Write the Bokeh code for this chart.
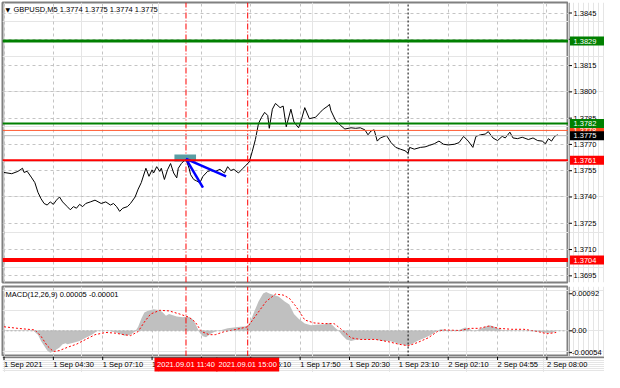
from bokeh.plotting import figure
from bokeh.layouts import column, row
from bokeh.models import Range1d, FixedTicker, Span, Label, Grid
from bokeh.core.properties import value
from bokeh.embed import file_html
from bokeh.resources import INLINE

# ---------------- data ----------------
symbol_title = "GBPUSD,M5  1.3774 1.3775 1.3774 1.3775"
macd_title = "MACD(12,26,9) 0.00005 -0.00001"

price_bars = [0,5,9,12,13,15,18,20,22,24,26,28,30,32,34,36,38,41,43,45,47,49,51,53,56,59,63,66,69,71,
              73,75,77,80,82,85,87,89,91,92,94,96,97,99,101,102,104,106,108,110,112,113,115,117,118,120,
              121,123,125,127,129,132,134,137,140,143,145,147,149,152,155,157,159,161,163,165,167,169,171,
              172,174,176,179,181,183,186,188,191,193,195,198,202,205,207,210,211,212,215,218,221,225,228,
              231,234,236,238,240,242,244,248,251,254,257,260,262,263,266,270,273,276,279,282,285,288,292,
              295,298,301,304,306,309,312,314,317,320,323,325,328,330,333,336,340,343,346,349,351,353,355,
              357,359]
price_vals = [1.37540,1.37533,1.37546,1.37564,1.37540,1.37547,1.37509,1.37482,1.37427,1.37390,1.37363,
              1.37354,1.37372,1.37358,1.37382,1.37400,1.37372,1.37345,1.37327,1.37345,1.37336,1.37358,
              1.37345,1.37363,1.37372,1.37382,1.37363,1.37372,1.37354,1.37363,1.37345,1.37318,1.37336,
              1.37345,1.37363,1.37400,1.37445,1.37482,1.37537,1.37564,1.37518,1.37555,1.37537,1.37573,
              1.37546,1.37564,1.37500,1.37555,1.37591,1.37537,1.37509,1.37564,1.37591,1.37609,1.37615,
              1.37564,1.37527,1.37500,1.37491,1.37482,1.37518,1.37546,1.37551,1.37546,1.37558,1.37537,
              1.37573,1.37551,1.37558,1.37537,1.37564,1.37582,1.37600,1.37661,1.37728,1.37819,1.37855,
              1.37883,1.37865,1.37792,1.37901,1.37934,1.37910,1.37919,1.37801,1.37901,1.37828,1.37795,
              1.37847,1.37910,1.37847,1.37855,1.37883,1.37901,1.37919,1.37929,1.37892,1.37837,1.37810,
              1.37788,1.37795,1.37792,1.37795,1.37783,1.37755,1.37777,1.37783,1.37719,1.37737,1.37751,
              1.37710,1.37683,1.37673,1.37664,1.37650,1.37683,1.37673,1.37683,1.37686,1.37695,1.37704,
              1.37719,1.37701,1.37697,1.37701,1.37710,1.37746,1.37719,1.37683,1.37746,1.37755,1.37759,
              1.37773,1.37737,1.37722,1.37746,1.37737,1.37770,1.37737,1.37733,1.37741,1.37728,1.37737,
              1.37722,1.37719,1.37704,1.37733,1.37719,1.37746,1.37755]

# MACD histogram and signal, in units of 0.00001
hist_bars = [0,10,19,22,24,26,28,30,32,34,36,38,40,41,45,49,53,57,59,61,68,74,78,82,85,87,89,91,93,97,
             101,103,105,107,112,116,119,122,124,126,127,129,131,134,137,141,145,149,153,158,160,162,165,
             168,170,172,175,178,182,185,188,191,195,199,204,208,211,213,215,217,219,222,225,229,235,241,
             245,250,254,258,261,264,268,273,277,281,283,287,291,295,299,302,305,308,312,315,318,323,329,
             337,346,352,356,359]
hist_e5 = [1,1,0,-9.5,-25.2,-37.0,-48.8,-54.3,-51.2,-46.5,-41.0,-33.1,-30.7,-33.1,-29.2,-25.2,-17.4,-9.5,
           -4.0,0,0,-5.6,-11.9,-9.5,-1.6,10.1,29.8,45.5,49.5,53.4,51.0,45.5,37.7,41.6,35.3,33.7,35.3,29.8,
           18.0,2.3,-5.6,-13.4,-15.8,-7.2,-1.6,2.3,6.2,8.6,10.1,11.7,25.9,45.5,73.1,92.7,96.6,92.7,88.8,
           84.9,73.1,65.2,41.6,29.8,18.0,14.1,15.6,16.4,19.6,14.1,6.2,0,-9.5,-21.3,-25.2,-21.3,-21.3,-21.3,
           -25.2,-25.2,-29.2,-33.1,-37.0,-33.1,-25.2,-17.4,-9.5,0,3.9,2.3,0.8,2.3,8.6,3.9,-1.6,3.9,10.1,
           14.1,10.1,2.3,0.8,0,-1.6,-5.6,-4.0,2.3]
signal_bars = [0,9,20,24,28,32,36,41,47,53,59,66,72,78,82,87,91,95,101,107,114,120,124,128,133,137,143,
               149,158,164,170,176,181,185,189,192,195,201,208,214,218,225,231,241,250,256,262,268,275,281,
               285,296,302,308,314,321,329,337,346,352,358]
signal_e5 = [10.1,6.2,2.3,-13.4,-37.0,-51.2,-48.8,-41.0,-33.1,-21.3,-9.5,-4.0,-5.6,-9.5,-11.9,-1.6,21.9,
             41.6,51.0,49.5,41.6,33.7,21.9,-1.6,-9.5,-9.5,-1.6,2.3,10.1,41.6,73.1,91.1,88.8,80.9,62.0,45.0,
             27.0,19.6,18.0,18.0,6.2,-17.4,-21.3,-21.3,-27.6,-33.1,-37.0,-29.2,-17.4,-1.6,2.3,0.8,6.2,6.2,
             11.7,6.2,3.9,3.9,-1.6,-7.2,-4.0]

price_ticks = [1.3695, 1.3710, 1.3725, 1.3740, 1.3755, 1.3770, 1.3785, 1.3800, 1.3815, 1.3830, 1.3845]
price_tick_labels = ["1.3695", "1.3710", "1.3725", "1.3740", "1.3755", "1.3770", "1.3785", "1.3800",
                     "1.3815", "1.3830", "1.3845"]
time_ticks = [0, 32, 64, 96, 128, 160, 192, 224, 256, 288, 320, 352]
time_labels = ["1 Sep 2021", "1 Sep 04:30", "1 Sep 07:10", "1 Sep 09:50", "1 Sep 12:30", "1 Sep 15:10",
               "1 Sep 17:50", "1 Sep 20:30", "1 Sep 23:10", "2 Sep 02:10", "2 Sep 04:55", "2 Sep 08:00"]
macd_ticks = [-0.00054, 0.0, 0.00092]
macd_tick_labels = ["-0.00054", "0.00", "0.00092"]

resistance_levels = [1.3829, 1.3782]
resistance_labels = ["1.3829", "1.3782"]
support_levels = [1.3761, 1.3704]
support_labels = ["1.3761", "1.3704"]
alert_level = 1.3778
alert_label = "1.3778"
bid_level = 1.3775
bid_label = "1.3775"

event_bars = [118, 158]
event_labels = ["2021.09.01 11:40", "2021.09.01 15:00"]
session_bar = 262

zone_bars = [110.5, 124.5]
zone_prices = [1.37602, 1.37643]
arrow_start = (118, 1.37618)
arrow_end_bars = [129, 144]
arrow_end_prices = [1.37454, 1.37518]

# ---------------- styling ----------------
FONT = "Liberation Sans"
FS = "7.5px"
GRID = "#c4c4c4"
EVENT_RED = "#ff0000"
FRAME_W, AXIS_W = 566, 36
MAIN_H, MACD_H, TIME_H = 280, 70, 16
xr = Range1d(-0.975, 366)
pr = Range1d(1.36912, 1.38510)
myr = Range1d(-0.000636, 0.00110)


def base(width, height, x_range, y_range, **kw):
    opts = dict(width=width, height=height, x_range=x_range, y_range=y_range, output_backend="svg",
                toolbar_location=None, x_axis_location=None, y_axis_location=None, min_border=0,
                background_fill_color="white", border_fill_color="white", outline_line_color=None)
    opts.update(kw)
    return figure(**opts)


def verticals(fig, yrange):
    n = len(event_bars)
    fig.segment(x0=event_bars, y0=[yrange.start] * n, x1=event_bars, y1=[yrange.end] * n,
                line_color=EVENT_RED, line_width=1, line_dash="6 2 1 2")
    fig.segment(x0=[session_bar], y0=[yrange.start], x1=[session_bar], y1=[yrange.end],
                line_color="#000000", line_width=1, line_dash="2 2")


# ---------------- price panel ----------------
p1 = base(2 + FRAME_W, 2 + MAIN_H + 2, xr, pr, min_border_left=2, min_border_top=2, min_border_bottom=2,
          outline_line_color="#808080", outline_line_width=2)
p1.add_layout(Grid(dimension=1, ticker=FixedTicker(ticks=price_ticks), grid_line_color=GRID,
                   grid_line_dash="3 3"))
p1.add_layout(Grid(dimension=0, ticker=FixedTicker(ticks=time_ticks), grid_line_color=GRID,
                   grid_line_dash="3 3"))

p1.add_layout(Span(location=bid_level, dimension="width", line_color="#b8b8b8", line_width=1))
p1.add_layout(Span(location=alert_level, dimension="width", line_color="#ff5a30", line_width=1))
for lv, w in zip(resistance_levels, [3, 2]):
    p1.add_layout(Span(location=lv, dimension="width", line_color="#008000", line_width=w))
for lv, w in zip(support_levels, [2, 4]):
    p1.add_layout(Span(location=lv, dimension="width", line_color="#ff0000", line_width=w))

verticals(p1, pr)

p1.quad(left=[zone_bars[0]], right=[zone_bars[1]], bottom=[zone_prices[0]], top=[zone_prices[1]],
        fill_color="#5a9ea4", line_color=None)
p1.line(price_bars, price_vals, line_color="#000000", line_width=1)
p1.segment(x0=[arrow_start[0]] * 2, y0=[arrow_start[1]] * 2, x1=arrow_end_bars, y1=arrow_end_prices,
           line_color="#0000ff", line_width=2.5)

p1.add_layout(Label(x=xr.start, y=pr.end, x_offset=3, y_offset=-3, text="▼", text_font="DejaVu Sans",
                    text_font_size="6px", text_baseline="top", text_color="#000000"))
p1.add_layout(Label(x=xr.start, y=pr.end, x_offset=11, y_offset=-2, text=symbol_title, text_font=FONT,
                    text_font_size=FS, text_baseline="top", text_color="#000000"))

# price axis strip with coloured level boxes
a1 = base(AXIS_W, 2 + MAIN_H + 2, Range1d(0, AXIS_W), pr, min_border_top=2, min_border_bottom=2)
a1.add_layout(Span(location=0.5, dimension="height", line_color="#505050", line_width=1))
a1.segment(x0=[0] * len(price_ticks), y0=price_ticks, x1=[3.5] * len(price_ticks), y1=price_ticks,
           line_color="#000000", line_width=1)
a1.text(x=[5] * len(price_ticks), y=price_ticks, text=price_tick_labels, text_font=value(FONT),
        text_font_size=value(FS), text_align="left", text_baseline="middle", text_color="#000000")

box_levels = [alert_level] + resistance_levels + [bid_level] + support_levels
box_labels = [alert_label] + resistance_labels + [bid_label] + support_labels
box_colors = ["#ff4a1c", "#008000", "#008000", "#000000", "#ff0000", "#ff0000"]
for lv, lb, c in zip(box_levels, box_labels, box_colors):
    a1.rect(x=[AXIS_W / 2 + 1], y=[lv], width=AXIS_W - 1, height=9, height_units="screen",
            fill_color=c, line_color=None)
    a1.text(x=[5], y=[lv], text=[lb], text_font=value(FONT), text_font_size=value(FS),
            text_align="left", text_baseline="middle", text_color="#ffffff")

# ---------------- MACD panel ----------------
p2 = base(2 + FRAME_W, 2 + MACD_H, xr, myr, min_border_left=2, min_border_top=2,
          outline_line_color="#808080", outline_line_width=2)
p2.add_layout(Grid(dimension=0, ticker=FixedTicker(ticks=time_ticks), grid_line_color=GRID,
                   grid_line_dash="3 3"))
p2.varea(x=hist_bars, y1=[0] * len(hist_bars), y2=[v * 1e-5 for v in hist_e5], fill_color="#c0c0c0")
p2.add_layout(Span(location=0, dimension="width", line_color="#b0b0b0", line_width=1, line_dash="2 2"))
p2.line(signal_bars, [v * 1e-5 for v in signal_e5], line_color="#ff0000", line_width=1, line_dash="2 2")
verticals(p2, myr)
p2.add_layout(Label(x=xr.start, y=myr.end, x_offset=3, y_offset=-3, text=macd_title, text_font=FONT,
                    text_font_size=FS, text_baseline="top", text_color="#000000"))

a2 = base(AXIS_W, 2 + MACD_H, Range1d(0, AXIS_W), myr, min_border_top=2)
a2.add_layout(Span(location=0.5, dimension="height", line_color="#505050", line_width=1))
a2.segment(x0=[0] * len(macd_ticks), y0=macd_ticks, x1=[3.5] * len(macd_ticks), y1=macd_ticks,
           line_color="#000000", line_width=1)
a2.text(x=[3.5] * len(macd_ticks), y=macd_ticks, text=macd_tick_labels, text_font=value(FONT),
        text_font_size=value(FS), text_align="left", text_baseline="middle", text_color="#000000")

# ---------------- time axis strip ----------------
span_w = (xr.end - xr.start) * (FRAME_W + AXIS_W) / FRAME_W
tb = base(2 + FRAME_W + AXIS_W, TIME_H, Range1d(xr.start, xr.start + span_w), Range1d(-TIME_H, 0),
          min_border_left=2)
tb.add_layout(Span(location=-0.5, dimension="width", line_color="#000000", line_width=1))
tb.segment(x0=time_ticks, y0=[0] * len(time_ticks), x1=time_ticks, y1=[-3.5] * len(time_ticks),
           line_color="#000000", line_width=1)
tb.text(x=time_ticks, y=[-3.5] * len(time_ticks), text=time_labels, text_font=value(FONT),
        text_font_size=value(FS), text_align="left", text_baseline="top", text_color="#000000")
tb.rect(x=event_bars, y=[-8] * len(event_bars), width=63, height=14, width_units="screen",
        height_units="screen", fill_color="#ff0000", line_color=None)
tb.text(x=event_bars, y=[-8] * len(event_bars), text=event_labels, text_font=value(FONT),
        text_font_size=value(FS), text_align="center", text_baseline="middle", text_color="#ffffff")

layout = column(row(p1, a1, spacing=0), row(p2, a2, spacing=0), tb, spacing=0)
open("out.html", "w").write(file_html(layout, INLINE))
